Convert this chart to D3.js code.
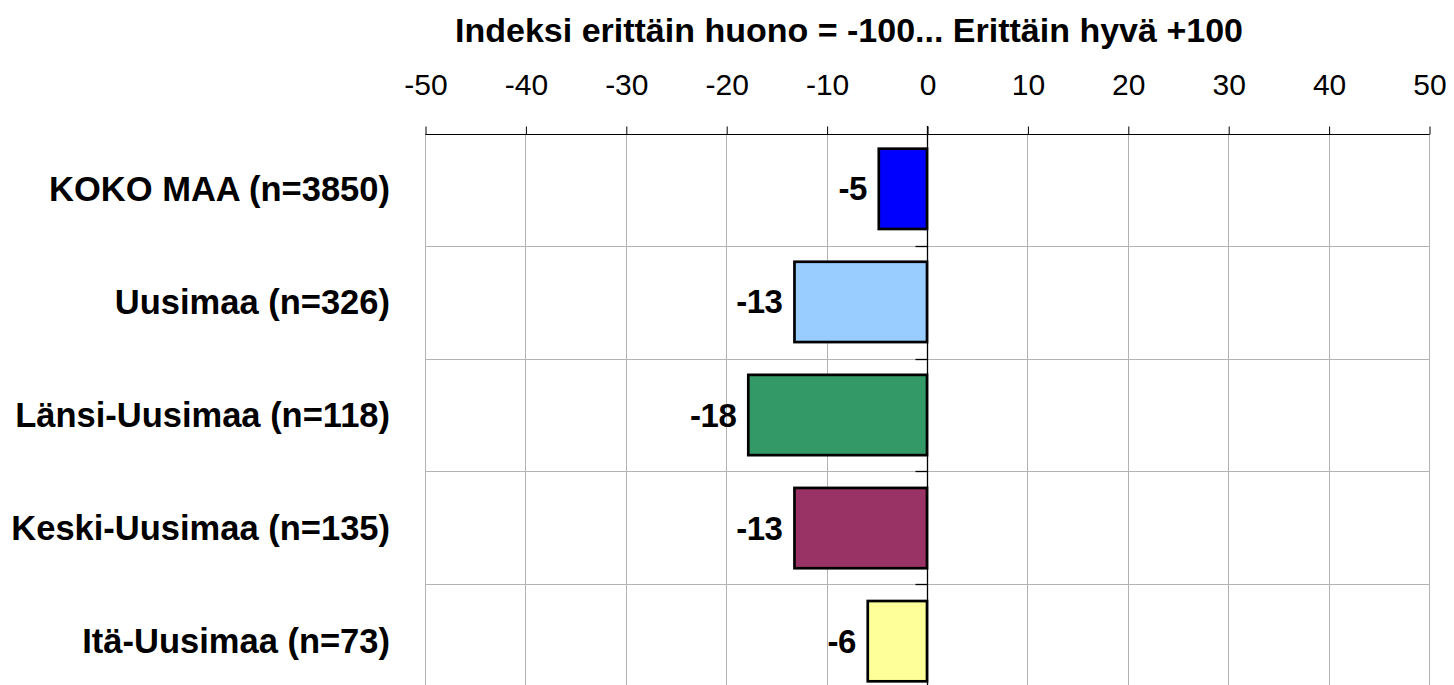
<!DOCTYPE html>
<html lang="fi">
<head>
  <meta charset="UTF-8">
  <title>Indeksi</title>
  <script src="https://d3js.org/d3.v7.min.js"></script>
  <style>
    body { margin: 0; background: #fff; }
    svg text { font-family: "Liberation Sans", Arial, sans-serif; }
  </style>
</head>
<body>
  <div id="chart"></div>
  <script>
  // data
  const categories = ['KOKO MAA (n=3850)', 'Uusimaa (n=326)', 'Länsi-Uusimaa (n=118)', 'Keski-Uusimaa (n=135)', 'Itä-Uusimaa (n=73)']
  const values = [-4.8, -13.2, -17.8, -13.2, -5.9]
  const colors = ['#0000ff', '#99ccff', '#339966', '#993366', '#ffff99']
  const tickValues = [-50, -40, -30, -20, -10, 0, 10, 20, 30, 40, 50]
  const title = 'Indeksi erittäin huono = -100... Erittäin hyvä +100'

  const width = 1454, height = 685
  const plotLeft = 425, plotRight = 1429, plotTop = 134, plotBottom = 696

  const svg = d3.select('#chart')
    .append('svg')
    .attr('width', width)
    .attr('height', height)

  const xScale = d3.scaleLinear()
    .domain([-50, 50])
    .range([plotLeft, plotRight])

  const yScale = d3.scaleBand()
    .domain(categories)
    .range([plotTop, plotBottom])
    .paddingInner(0.29)
    .paddingOuter(0.13)

  // vertical gridlines
  svg.selectAll('line.vgrid')
    .data(tickValues)
    .enter()
    .append('line')
    .attr('class', 'vgrid')
    .attr('x1', d => Math.round(xScale(d)) + 0.5)
    .attr('x2', d => Math.round(xScale(d)) + 0.5)
    .attr('y1', plotTop)
    .attr('y2', plotBottom)
    .attr('stroke', '#b3b3b3')
    .attr('stroke-width', 1)

  // horizontal gridlines between categories
  const bandEdges = d3.range(1, categories.length + 1).map(i => plotTop + i * (plotBottom - plotTop) / categories.length)
  svg.selectAll('line.hgrid')
    .data(bandEdges)
    .enter()
    .append('line')
    .attr('class', 'hgrid')
    .attr('x1', plotLeft)
    .attr('x2', plotRight)
    .attr('y1', d => Math.round(d) + 0.5)
    .attr('y2', d => Math.round(d) + 0.5)
    .attr('stroke', '#b3b3b3')
    .attr('stroke-width', 1)

  // top axis
  const xAxis = d3.axisTop(xScale)
    .tickValues(tickValues)
    .tickSize(8)
    .tickFormat(d => String(d))
  const gx = svg.append('g')
    .attr('transform', `translate(0.5, ${plotTop + 0.5})`)
    .call(xAxis)
  gx.select('.domain').attr('stroke', '#000').attr('d', `M${plotLeft},0H${plotRight}`)
  gx.selectAll('.tick line').attr('stroke', '#000')
  gx.selectAll('.tick text')
    .attr('y', -40)
    .attr('dy', 0)
    .attr('font-size', 30)
    .attr('fill', '#000')
    .attr('font-family', '"Liberation Sans", Arial, sans-serif')

  // bars
  svg.selectAll('rect.bar')
    .data(values)
    .enter()
    .append('rect')
    .attr('class', 'bar')
    .attr('x', d => xScale(Math.min(0, d)))
    .attr('y', (d, i) => yScale(categories[i]))
    .attr('width', d => Math.abs(xScale(d) - xScale(0)))
    .attr('height', yScale.bandwidth())
    .attr('fill', (d, i) => colors[i])
    .attr('stroke', '#000')
    .attr('stroke-width', 2.7)

  // zero line with category ticks
  const x0 = Math.round(xScale(0)) + 0.5
  svg.append('line')
    .attr('x1', x0).attr('x2', x0)
    .attr('y1', plotTop - 8).attr('y2', plotBottom)
    .attr('stroke', '#000')
    .attr('stroke-width', 1.3)
  svg.selectAll('line.ctick')
    .data(bandEdges)
    .enter()
    .append('line')
    .attr('class', 'ctick')
    .attr('x1', x0 - 12).attr('x2', x0)
    .attr('y1', d => Math.round(d) + 0.5)
    .attr('y2', d => Math.round(d) + 0.5)
    .attr('stroke', '#000')
    .attr('stroke-width', 1.3)

  // value labels
  svg.selectAll('text.val')
    .data(values)
    .enter()
    .append('text')
    .attr('class', 'val')
    .attr('x', d => xScale(Math.min(0, d)) - 12)
    .attr('y', (d, i) => yScale(categories[i]) + yScale.bandwidth() / 2)
    .attr('dy', '0.35em')
    .attr('text-anchor', 'end')
    .attr('font-size', 33)
    .attr('font-weight', 'bold')
    .attr('letter-spacing', -0.5)
    .text(d => Math.round(d))

  // category labels
  svg.selectAll('text.cat')
    .data(categories)
    .enter()
    .append('text')
    .attr('class', 'cat')
    .attr('x', 390)
    .attr('y', d => yScale(d) + yScale.bandwidth() / 2)
    .attr('dy', '0.35em')
    .attr('text-anchor', 'end')
    .attr('font-size', 34.5)
    .attr('font-weight', 'bold')
    .text(d => d)

  // title
  svg.append('text')
    .attr('x', 849)
    .attr('y', 42)
    .attr('text-anchor', 'middle')
    .attr('font-size', 34)
    .attr('font-weight', 'bold')
    .text(title)
  </script>
</body>
</html>
